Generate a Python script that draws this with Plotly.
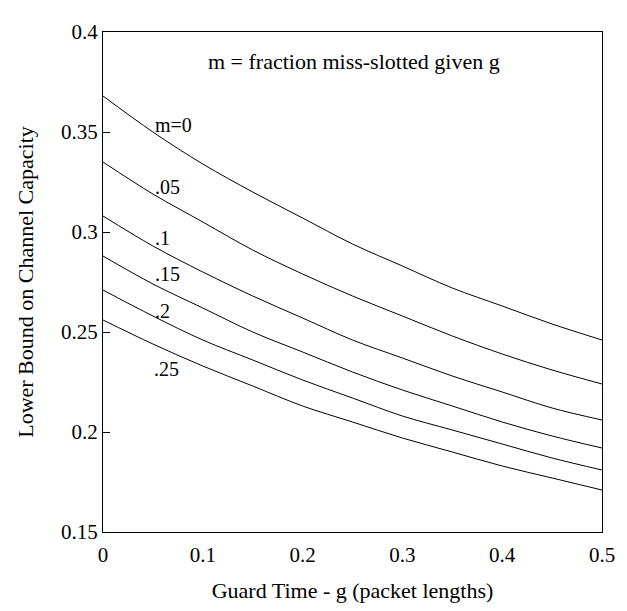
import plotly.graph_objects as go

g_values = [0.0, 0.05, 0.1, 0.15, 0.2, 0.25, 0.3, 0.35, 0.4, 0.45, 0.5]

m_labels = ["m=0", ".05", ".1", ".15", ".2", ".25"]

cap_m000 = [0.368, 0.350, 0.334, 0.320, 0.307, 0.294, 0.283, 0.272, 0.263, 0.254, 0.246]
cap_m005 = [0.335, 0.319, 0.305, 0.291, 0.279, 0.268, 0.258, 0.248, 0.239, 0.231, 0.224]
cap_m010 = [0.308, 0.293, 0.280, 0.268, 0.257, 0.246, 0.237, 0.228, 0.220, 0.212, 0.206]
cap_m015 = [0.288, 0.274, 0.262, 0.250, 0.240, 0.230, 0.221, 0.213, 0.205, 0.198, 0.192]
cap_m020 = [0.271, 0.258, 0.246, 0.236, 0.226, 0.217, 0.208, 0.201, 0.194, 0.187, 0.181]
cap_m025 = [0.256, 0.244, 0.233, 0.223, 0.213, 0.205, 0.197, 0.190, 0.183, 0.177, 0.171]

series = [cap_m000, cap_m005, cap_m010, cap_m015, cap_m020, cap_m025]

# label anchor positions (g, capacity)
label_g = [0.052, 0.052, 0.052, 0.052, 0.052, 0.051]
label_y = [0.3534, 0.3224, 0.2972, 0.2788, 0.2603, 0.2317]

FONT = "Liberation Serif, Times New Roman, serif"

fig = go.Figure()
for ys in series:
    fig.add_trace(go.Scatter(x=g_values, y=ys, mode="lines", line_shape="spline",
                             line=dict(color="black", width=1), showlegend=False,
                             hoverinfo="skip"))

for lab, gx, gy in zip(m_labels, label_g, label_y):
    fig.add_annotation(x=gx, y=gy, text=lab, showarrow=False, xanchor="left",
                       yanchor="middle", xshift=-2,
                       font=dict(family=FONT, size=20, color="black"))

fig.add_annotation(x=0.103, y=0.3854, text="m = fraction miss-slotted given g",
                   showarrow=False, xanchor="left", yanchor="middle",
                   font=dict(family=FONT, size=22, color="black"))

axis_common = dict(showgrid=False, zeroline=False, showline=True, linecolor="black",
                   linewidth=1, mirror=True, tickcolor="black",
                   tickfont=dict(family=FONT, size=21, color="black"))

fig.update_xaxes(range=[0, 0.5], tickvals=[0, 0.1, 0.2, 0.3, 0.4, 0.5],
                 ticktext=["0", "0.1", "0.2", "0.3", "0.4", "0.5"],
                 ticks="", ticklabelstandoff=4,
                 title=dict(text="Guard Time - g (packet lengths)", standoff=16,
                            font=dict(family=FONT, size=22, color="black")),
                 **axis_common)
fig.update_yaxes(range=[0.15, 0.4], tickvals=[0.15, 0.2, 0.25, 0.3, 0.35, 0.4],
                 ticktext=["0.15", "0.2", "0.25", "0.3", "0.35", "0.4"],
                 ticks="inside", ticklen=7,
                 title=dict(text="Lower Bound on Channel Capacity", standoff=21,
                            font=dict(family=FONT, size=22, color="black")),
                 **axis_common)

# the page body adds an 8px margin, so the figure is 8px smaller and shifted
fig.update_layout(width=619, height=603, margin=dict(l=95, r=14, t=15, b=74),
                  plot_bgcolor="white", paper_bgcolor="white")

fig.write_html("out.html")
